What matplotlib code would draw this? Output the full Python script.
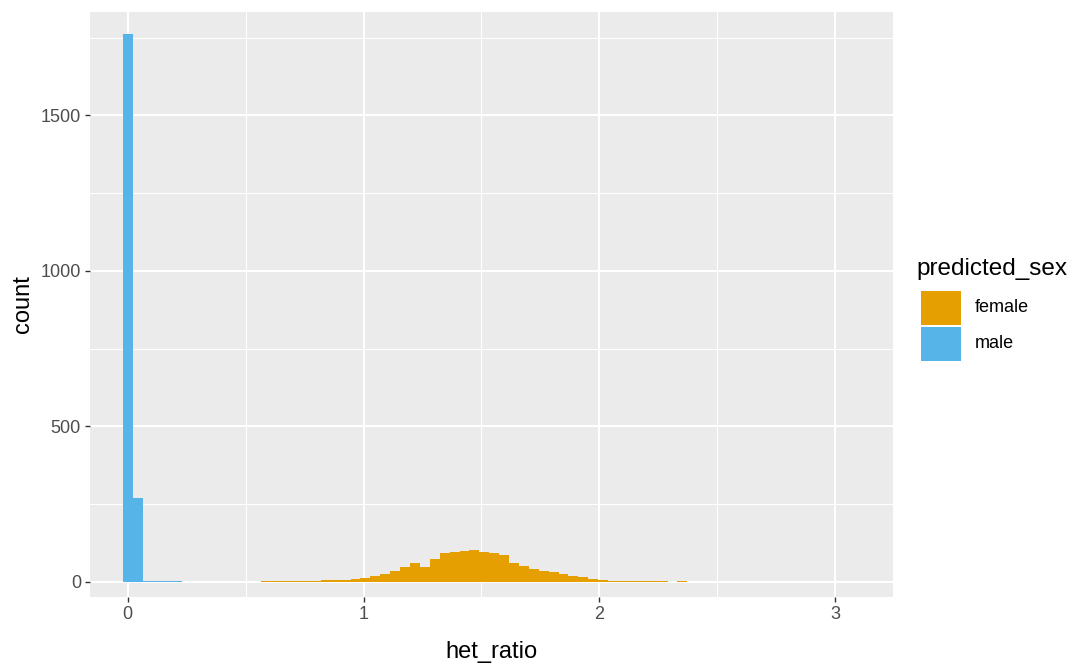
import matplotlib
matplotlib.use("Agg")
import matplotlib.pyplot as plt
from matplotlib.patches import Rectangle
import numpy as np

plt.rcParams['font.family'] = ['Liberation Sans', 'DejaVu Sans']

# Histogram of het_ratio, bins of width 0.042 centred on multiples of the width
bin_width = 0.042

male_first_bin = 0
male_counts = [1760, 270, 3, 1, 1, 1]

female_first_bin = 14
female_counts = [2, 3, 3, 3, 4, 4, 5, 6, 7, 9,
                 12, 18, 25, 34, 48, 60, 47, 72, 92, 95,
                 98, 101, 96, 91, 86, 60, 50, 42, 36, 30,
                 25, 18, 14, 9, 6, 4, 3, 2, 1, 1,
                 1, 0, 1]

sex_labels = ["female", "male"]
sex_colors = ["#E69F00", "#56B4E9"]

x_ticks = [0, 1, 2, 3]
y_ticks = [0, 500, 1000, 1500]

W, H = 1075, 668
fig = plt.figure(figsize=(W / 100, H / 100), dpi=100)
ax = fig.add_axes([90 / W, (H - 597) / H, 803 / W, 585 / H])
ax.set_facecolor("#EBEBEB")


def draw_hist(first_bin, counts, color):
    idx = np.arange(len(counts)) + first_bin
    left = idx * bin_width - bin_width / 2
    ax.bar(left, counts, width=bin_width, align="edge", color=color,
           linewidth=0, zorder=3)


draw_hist(female_first_bin, female_counts, sex_colors[0])
draw_hist(male_first_bin, male_counts, sex_colors[1])

ax.set_xlim(-0.16, 3.245)
ax.set_ylim(-49, 1832)

ax.set_xticks(x_ticks)
ax.set_xticks([0.5, 1.5, 2.5], minor=True)
ax.set_yticks(y_ticks)
ax.set_yticks([250, 750, 1250, 1750], minor=True)
ax.grid(True, which="major", color="white", linewidth=1.5, zorder=1)
ax.grid(True, which="minor", color="white", linewidth=0.75, zorder=1)
ax.set_axisbelow(True)

for s in ax.spines.values():
    s.set_visible(False)

ax.tick_params(axis="both", which="major", length=3.5, width=1.0,
               color="#333333", labelcolor="#4D4D4D", labelsize=13, pad=3)
ax.tick_params(axis="both", which="minor", length=0)

ax.set_xlabel("het_ratio", fontsize=17, color="black")
ax.set_ylabel("count", fontsize=17, color="black")
ax.xaxis.set_label_coords(0.5, -0.075)
ax.yaxis.set_label_coords(-0.07, 0.5)

# Legend
fig.text(916 / W, 1 - 269 / H, "predicted_sex", fontsize=17.5,
         color="black", va="center", ha="left")
key_top = [291, 327]
for lab, col, y in zip(sex_labels, sex_colors, key_top):
    fig.add_artist(Rectangle((921 / W, 1 - (y + 34) / H), 40 / W,
                             34 / H, transform=fig.transFigure,
                             facecolor=col, edgecolor="none"))
    fig.text(975 / W, 1 - (y + 17) / H, lab, fontsize=13,
             color="black", va="center", ha="left")

fig.savefig("out.png", dpi=100, facecolor="white")
